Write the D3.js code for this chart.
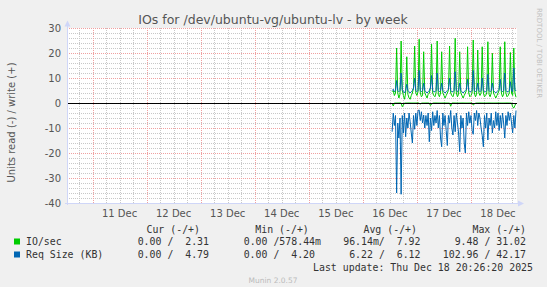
<!DOCTYPE html>
<html>
<head>
<meta charset="utf-8">
<script src="https://cdn.jsdelivr.net/npm/d3@7/dist/d3.min.js"></script>
<style>
  body { margin: 0; background: #f0f0f0; }
  text { font-family: "DejaVu Sans", sans-serif; fill: #555; }
  .mono { font-family: "DejaVu Sans Mono", monospace; fill: #333; white-space: pre; }
</style>
</head>
<body>
<script>
// graph window: munin "by week", last update Dec 18 20:26
var startTime = Date.UTC(2025, 11, 10, 12, 40),
    endTime = Date.UTC(2025, 11, 18, 20, 26),
    firstSample = Date.UTC(2025, 11, 16, 13, 0),
    stepMs = 30 * 60 * 1000;

var yTicks = [30, 20, 10, 0, -10, -20, -30, -40];

// 30 min averages, one value per step from firstSample
var ioWrite = [4.5, 5, 3, 4, 22, 4, 2, 3.5, 24.8, 5, 3, 1.5, 4, 18.5, 3.5, 2, 1.5, 3, 4, 6,
  22.8, 4, 3, 4.5, 25.5, 4, 2.5, 3, 20.5, 4, 3, 2, 3.5, 4, 6, 23.5, 4, 3, 2.5, 4,
  24.8, 3.5, 2.5, 4, 20.5, 4, 3, 2, 3, 4, 5, 22.8, 4, 3, 2.5, 4, 25.9, 4, 2.5, 3.5,
  20.5, 4, 3, 2, 3, 4, 5, 22.5, 4, 2.5, 3, 4, 25.2, 4, 2.5, 3.5, 21.2, 4, 3, 4,
  22.5, 4, 2.5, 3, 4, 24.5, 3.5, 2.5, 4, 19.9, 4, 3, 2, 3, 4, 5, 22.5, 4, 2.5, 3.5,
  24.5, 4, 2.5, 3, 4, 20.2, 4, 3, 22, 4, 2.31];
var ioRead = [0, 1.2, 0, 0, 0, 0, 0, 0, 0, 1.5, 0.8, 0, 0, 0, 0, 0, 0, 0, 0, 0,
  0, 0, 0, 0, 0, 0.5, 0, 0, 0, 0, 0, 0, 0, 0, 1, 0.5, 0, 0, 0, 0,
  0, 0, 0, 0, 0, 0, 0, 0, 0, 0, 0, 0, 1.3, 0, 0, 0, 0, 0, 0, 0,
  0, 0, 0, 0, 0, 0, 0, 0, 0, 0, 0, 0, 0.8, 0.5, 0, 0, 0, 0, 0, 0,
  0, 0, 0, 0, 0, 0, 0, 0, 0, 0, 0, 0, 0, 0, 0, 0, 0, 0, 0, 0,
  0, 0, 0, 0, 0, 0, 0, 1.5, 2, 1, 0];
var reqWrite = [5, 5.5, 4.5, 5, 9, 5, 4.5, 5, 12, 5.5, 4.5, 4, 5, 7.5, 5, 4.5, 4, 4.5, 5, 6,
  10, 5, 4.5, 5, 13, 5, 4.5, 5, 8, 5, 4.5, 4, 4.5, 5, 6, 11, 5, 4.5, 4.5, 5,
  12, 5, 4.5, 5, 8, 5, 4.5, 4, 4.5, 5, 5.5, 10, 5, 4.5, 4.5, 5, 12.5, 5, 4.5, 5,
  8, 5, 4.5, 4, 4.5, 5, 5.5, 9.5, 5, 4.5, 4.5, 5, 13, 5, 4.5, 5, 8, 5, 4.5, 5,
  10, 5, 4.5, 4.5, 5, 11.5, 5, 4.5, 5, 8, 5, 4.5, 4, 4.5, 5, 5.5, 9.5, 5, 4.5, 5,
  12, 5, 4.5, 4.5, 5, 8.5, 5, 4.5, 14, 5.5, 4.79];
var reqRead = [11.5, 4, 9, 5, 36, 8, 14, 6, 36.5, 5, 12, 4, 13.5, 6, 10, 4, 7.5, 12, 16, 5,
  10.5, 4, 9, 3, 2.8, 7, 3.5, 8, 4.8, 10, 5, 9, 4, 15.5, 6, 11, 3.5, 9, 5, 8,
  3, 10, 5, 14, 17.5, 4, 9, 5, 11, 17, 5, 8, 3, 10, 12.8, 5, 11.5, 4, 8, 12,
  19.5, 5, 10, 6, 16, 20, 4, 9, 3.5, 8, 5, 11, 12.5, 4, 7, 3, 9, 4, 6, 10,
  13, 17.5, 5, 10, 4, 14.8, 6, 9, 4, 12, 7, 10, 3.5, 9, 4, 11, 5, 10, 4, 8,
  14, 5, 9, 3.5, 7, 4, 8, 12, 5, 10, 3];

var legendHeads = ["Cur (-/+)", "Min (-/+)", "Avg (-/+)", "Max (-/+)"];
var legendRows = [
  { name: "IO/sec", color: "#00cc00", vals: ["0.00 /  2.31", "0.00 /578.44m", "96.14m/  7.92", "9.48 / 31.02"] },
  { name: "Req Size (KB)", color: "#0066b3", vals: ["0.00 /  4.79", "0.00 /  4.20", "6.22 /  6.12", "102.96 / 42.17"] }
];

var width = 547, height = 287;
var plot = { left: 67, right: 517, top: 28, bottom: 203 };

var svg = d3.select("body").append("svg")
  .attr("width", width)
  .attr("height", height);

svg.append("rect").attr("width", width).attr("height", height).attr("fill", "#f0f0f0");

var x = d3.scaleUtc()
  .domain([startTime, endTime])
  .range([plot.left, plot.right]);
var y = d3.scaleLinear()
  .domain([-40, 30])
  .range([plot.bottom, plot.top]);

// canvas
svg.append("rect")
  .attr("x", plot.left).attr("y", plot.top)
  .attr("width", plot.right - plot.left).attr("height", plot.bottom - plot.top)
  .attr("fill", "#ffffff");

var grid = svg.append("g").attr("shape-rendering", "crispEdges");

// minor grid
d3.utcHour.every(6).range(new Date(startTime), new Date(endTime)).forEach(function(t) {
  if (t.getUTCHours() === 0) return;
  grid.append("line")
    .attr("x1", Math.round(x(t)) + 0.5).attr("x2", Math.round(x(t)) + 0.5)
    .attr("y1", plot.top).attr("y2", plot.bottom)
    .attr("stroke", "#c8c8c8").attr("stroke-dasharray", "1,1");
});
d3.range(-40, 31, 2).forEach(function(v) {
  if (v % 10 === 0) return;
  grid.append("line")
    .attr("x1", plot.left).attr("x2", plot.right)
    .attr("y1", Math.round(y(v)) + 0.5).attr("y2", Math.round(y(v)) + 0.5)
    .attr("stroke", "#c8c8c8").attr("stroke-dasharray", "1,1");
});

// major grid
var days = d3.utcDay.range(new Date(startTime), new Date(endTime));
days.forEach(function(t) {
  grid.append("line")
    .attr("x1", Math.round(x(t)) + 0.5).attr("x2", Math.round(x(t)) + 0.5)
    .attr("y1", plot.top).attr("y2", plot.bottom)
    .attr("stroke", "#f0a0a0").attr("stroke-dasharray", "1,1");
});
yTicks.forEach(function(v) {
  grid.append("line")
    .attr("x1", plot.left).attr("x2", plot.right)
    .attr("y1", Math.round(y(v)) + 0.5).attr("y2", Math.round(y(v)) + 0.5)
    .attr("stroke", "#f0a0a0").attr("stroke-dasharray", "1,1");
});

// series
function series(vals, sign) {
  return vals.map(function(v, i) {
    return { t: new Date(firstSample + i * stepMs), v: sign * v };
  });
}
var line = d3.line()
  .x(function(d) { return x(d.t); })
  .y(function(d) { return y(d.v); });

[[ioRead, -1, "#00cc00"], [ioWrite, 1, "#00cc00"], [reqRead, -1, "#0066b3"], [reqWrite, 1, "#0066b3"]]
  .forEach(function(s) {
    svg.append("path")
      .datum(series(s[0], s[1]))
      .attr("d", line)
      .attr("fill", "none")
      .attr("stroke", s[2])
      .attr("stroke-width", 1);
  });

// zero rule
svg.append("line")
  .attr("x1", plot.left).attr("x2", plot.right)
  .attr("y1", Math.round(y(0)) + 0.5).attr("y2", Math.round(y(0)) + 0.5)
  .attr("stroke", "#000").attr("shape-rendering", "crispEdges");

// axes
var axisColor = "#cfd6f8";
svg.append("line")
  .attr("x1", plot.left + 0.5).attr("x2", plot.left + 0.5)
  .attr("y1", plot.bottom + 2).attr("y2", plot.top - 4)
  .attr("stroke", axisColor).attr("shape-rendering", "crispEdges");
svg.append("line")
  .attr("x1", plot.left - 2).attr("x2", plot.right + 2)
  .attr("y1", plot.bottom + 0.5).attr("y2", plot.bottom + 0.5)
  .attr("stroke", axisColor).attr("shape-rendering", "crispEdges");
svg.append("path")
  .attr("d", "M" + (plot.left - 2.5) + "," + (plot.top - 1.5) + "L" + (plot.left + 3.5) + "," + (plot.top - 1.5) + "L" + (plot.left + 0.5) + "," + (plot.top - 7.5) + "Z")
  .attr("fill", axisColor);
svg.append("path")
  .attr("d", "M" + (plot.right + 1) + "," + (plot.bottom - 2.5) + "L" + (plot.right + 1) + "," + (plot.bottom + 3.5) + "L" + (plot.right + 7) + "," + (plot.bottom + 0.5) + "Z")
  .attr("fill", axisColor);

// tick labels
svg.append("g").selectAll("text")
  .data(yTicks)
  .join("text")
  .attr("x", plot.left - 6)
  .attr("y", function(d) { return y(d) + 3.5; })
  .attr("text-anchor", "end")
  .attr("font-size", 10)
  .text(function(d) { return d; });

var fmtDay = d3.utcFormat("%d %b");
svg.append("g").selectAll("text")
  .data(days.map(function(d) { return d3.utcHour.offset(d, 12); }).filter(function(d) { return +d < endTime; }))
  .join("text")
  .attr("x", function(d) { return x(d); })
  .attr("y", 216.5)
  .attr("text-anchor", "middle")
  .attr("font-size", 10)
  .text(fmtDay);

// titles
svg.append("text")
  .attr("x", 273).attr("y", 24)
  .attr("text-anchor", "middle")
  .attr("font-size", 12.5)
  .text("IOs for /dev/ubuntu-vg/ubuntu-lv - by week");

svg.append("text")
  .attr("transform", "translate(14.5,122.5) rotate(-90)")
  .attr("text-anchor", "middle")
  .attr("font-size", 10)
  .text("Units read (-) / write (+)");

svg.append("text")
  .attr("transform", "translate(536.5,8) rotate(90)")
  .attr("font-size", 7)
  .style("fill", "#c0c0c0")
  .text("RRDTOOL / TOBI OETIKER");

// legend
var colEnds = [209, 321, 420.5, 526];
var headEnds = [200, 308.8, 417, 526];
svg.append("g").selectAll("text")
  .data(legendHeads)
  .join("text")
  .attr("class", "mono")
  .attr("x", function(d, i) { return headEnds[i]; })
  .attr("y", 232.5)
  .attr("text-anchor", "end")
  .attr("font-size", 9.9)
  .text(function(d) { return d; });

legendRows.forEach(function(r, ri) {
  var yy = 245 + ri * 13;
  svg.append("rect")
    .attr("x", 14).attr("y", yy - 6.5)
    .attr("width", 6).attr("height", 6)
    .attr("fill", r.color);
  svg.append("text")
    .attr("class", "mono")
    .attr("x", 26).attr("y", yy)
    .attr("font-size", 9.9)
    .text(r.name);
  r.vals.forEach(function(v, ci) {
    var end = colEnds[ci];
    if (ci === 1 && !/m$/.test(v)) end -= 6;
    svg.append("text")
      .attr("class", "mono")
      .attr("x", end).attr("y", yy)
      .attr("text-anchor", "end")
      .attr("font-size", 9.9)
      .text(v);
  });
});

svg.append("text")
  .attr("class", "mono")
  .attr("x", 533).attr("y", 271)
  .attr("text-anchor", "end")
  .attr("font-size", 9.9)
  .text("Last update: Thu Dec 18 20:26:20 2025");

svg.append("text")
  .attr("x", 273).attr("y", 283)
  .attr("text-anchor", "middle")
  .attr("font-size", 7.5)
  .style("fill", "#bbbbbb")
  .text("Munin 2.0.57");
</script>
</body>
</html>
